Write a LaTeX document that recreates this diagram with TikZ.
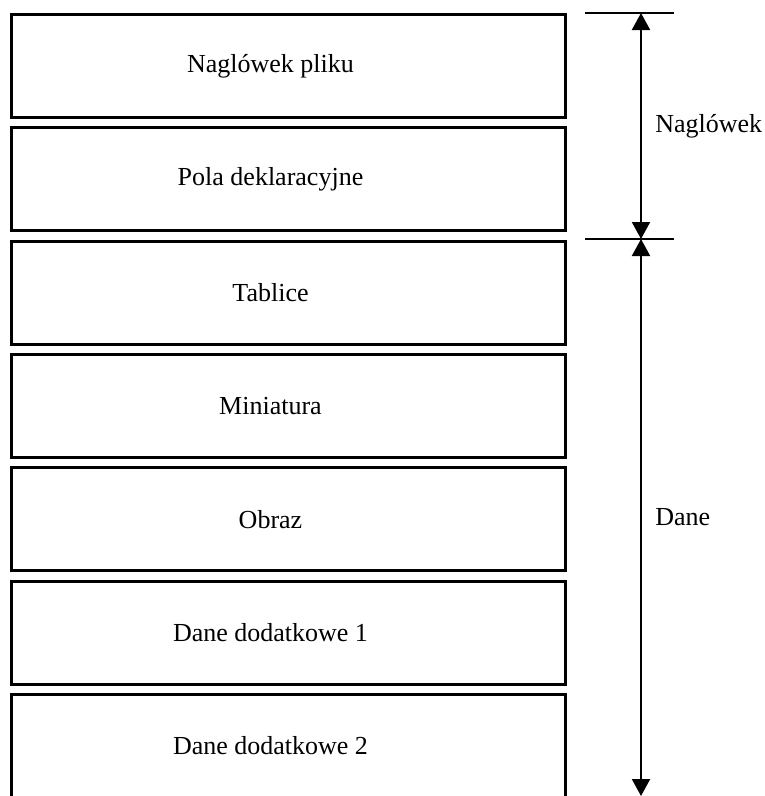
\documentclass[tikz,border=0pt]{standalone}
\usepackage{fontspec}
\setmainfont{Liberation Serif}
\usetikzlibrary{arrows.meta, positioning}

\begin{document}
\begin{tikzpicture}[x=1pt, y=-1pt,
        font=\fontsize{26}{31}\selectfont,
        box/.style={
            draw,
            line width=3pt,
            minimum width=554pt,
            minimum height=103pt,
            execute at begin node={\hspace*{-36pt}}},
        tick/.style={line width=2pt},
        >={Triangle[length=17pt, width=18pt]}]

        \useasboundingbox (0,0) rectangle (765,796);
        \clip (0,0) rectangle (765,796);

        \node[box] (header) at (288.5,66) {Naglówek pliku};
        \node[box, below=7.3pt of header] (decl) {Pola deklaracyjne};
        \node[box, below=7.3pt of decl] (tables) {Tablice};
        \node[box, below=7.3pt of tables] (thumb) {Miniatura};
        \node[box, below=7.3pt of thumb] (image) {Obraz};
        \node[box, below=7.3pt of image] (extra1) {Dane dodatkowe 1};
        \node[box, below=7.3pt of extra1] (extra2) {Dane dodatkowe 2};

        \coordinate (top) at (641,13);
        \coordinate (split) at (641,239);
        \coordinate (bottom) at (641,796);
        \draw[tick] ([xshift=-56pt]top) -- ([xshift=33pt]top);
        \draw[tick] ([xshift=-56pt]split) -- ([xshift=33pt]split);
        \draw[tick, <->] (top) -- (split) node[midway, right=10pt] (hdrlabel) {Naglówek};
        \draw[tick, <->] (split) -- (bottom) node[midway, right=10pt] (datalabel) {Dane};
    \end{tikzpicture}
\end{document}
